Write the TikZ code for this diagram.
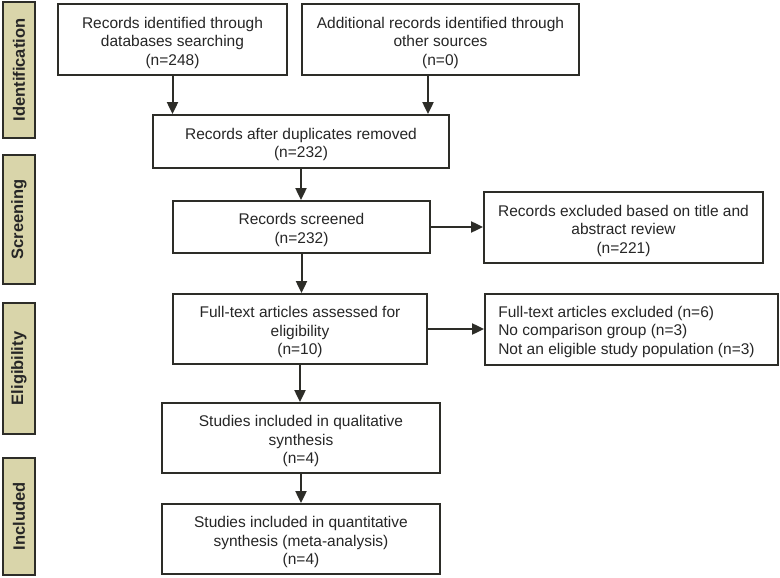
\documentclass[tikz,border=0pt]{standalone}
\usepackage{fontspec}
\setmainfont{Liberation Sans}
\usetikzlibrary{arrows.meta}
\definecolor{linec}{RGB}{45,45,40}
\definecolor{tan}{RGB}{217,213,170}
\begin{document}
\begin{tikzpicture}[x=1pt,y=1pt,
  box/.style={draw=linec, line width=1.8pt, fill=white, inner sep=0pt},
  txt/.style={align=center, inner sep=0pt, font=\fontsize{15.5}{18.5}\selectfont, text=black!85},
  phase/.style={draw=linec, line width=2pt, fill=tan, inner sep=0pt, rotate=90, font=\fontsize{16.5}{18}\selectfont\bfseries, text=black!85},
  arr/.style={draw=linec, line width=2pt, -{Triangle[length=12pt,width=11pt]}}]
\useasboundingbox (0,0) rectangle (780,-578);
% phases
\node[phase, minimum height=32pt, minimum width=136pt] (p1) at (19,-70) {Identification};
\node[phase, minimum height=32pt, minimum width=129pt] (p2) at (19,-219.5) {Screening};
\node[phase, minimum height=32pt, minimum width=131pt] (p3) at (19,-368.5) {Eligibility};
\node[phase, minimum height=32pt, minimum width=117pt] (p4) at (19,-516.5) {Included};
% boxes
\node[box, minimum width=229pt, minimum height=71pt] (b1) at (172.5,-39.5) {};
\node[box, minimum width=277pt, minimum height=71pt] (b2) at (440.5,-39.5) {};
\node[box, minimum width=296pt, minimum height=53pt] (b3) at (301,-141.5) {};
\node[box, minimum width=257pt, minimum height=52pt] (b4) at (301.5,-227) {};
\node[box, minimum width=279pt, minimum height=71pt] (e1) at (623.5,-227.5) {};
\node[box, minimum width=254pt, minimum height=70pt] (b5) at (300,-329) {};
\node[box, minimum width=293pt, minimum height=71pt] (e2) at (631.5,-329.5) {};
\node[box, minimum width=278pt, minimum height=70pt] (b6) at (301,-438) {};
\node[box, minimum width=278pt, minimum height=70pt] (b7) at (301,-539) {};
% texts
\node[txt] (b1t) at ([yshift=-3pt]b1.center) {Records identified through\\databases searching\\(n=248)};
\node[txt] (b2t) at ([yshift=-3pt]b2.center) {Additional records identified through\\other sources\\(n=0)};
\node[txt] (b3t) at ([yshift=-3pt]b3.center) {Records after duplicates removed\\(n=232)};
\node[txt] (b4t) at ([yshift=-3pt]b4.center) {Records screened\\(n=232)};
\node[txt] (e1t) at ([yshift=-3pt]e1.center) {Records excluded based on title and\\abstract review\\(n=221)};
\node[txt] (b5t) at ([yshift=-3pt]b5.center) {Full-text articles assessed for\\eligibility\\(n=10)};
\node[txt, align=left, anchor=west] (e2t) at ([xshift=14pt, yshift=-2pt]e2.west) {Full-text articles excluded (n=6)\\No comparison group (n=3)\\Not an eligible study population (n=3)};
\node[txt] (b6t) at ([yshift=-3pt]b6.center) {Studies included in qualitative\\synthesis\\(n=4)};
\node[txt] (b7t) at ([yshift=-3pt]b7.center) {Studies included in quantitative\\synthesis (meta-analysis)\\(n=4)};
% arrows
\draw[arr] (b1.south) -- (b1.south |- b3.north);
\draw[arr] ([xshift=-12.5pt]b2.south) -- ([xshift=-12.5pt]b2.south |- b3.north);
\draw[arr] (b3.south) -- (b3.south |- b4.north);
\draw[arr] (b4.east) -- (b4.east -| e1.west);
\draw[arr] (b4.south) -- (b4.south |- b5.north);
\draw[arr] (b5.east) -- (b5.east -| e2.west);
\draw[arr] (b5.south) -- (b5.south |- b6.north);
\draw[arr] (b6.south) -- (b6.south |- b7.north);
\end{tikzpicture}
\end{document}
